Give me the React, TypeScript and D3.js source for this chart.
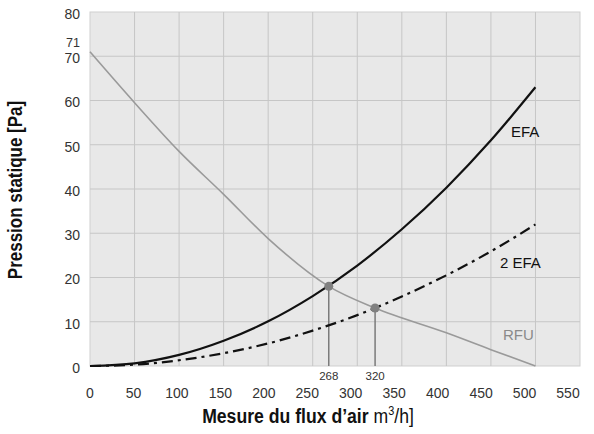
import React from "react";
import * as d3 from "d3";

const flowTicks = [0, 50, 100, 150, 200, 250, 300, 350, 400, 450, 500, 550];
const pressureTicks = [0, 10, 20, 30, 40, 50, 60, 70, 80];

const efaFlow = [0, 50, 100, 150, 200, 250, 300, 350, 400, 450, 500];
const efaPressure = [0, 0.6, 2.5, 5.7, 10.1, 15.8, 22.7, 30.9, 40.3, 51, 63];

const efa2Flow = [0, 50, 100, 150, 200, 250, 300, 350, 400, 450, 500];
const efa2Pressure = [0, 0.3, 1.3, 2.9, 5.1, 8, 11.5, 15.7, 20.5, 25.9, 32];

const rfuFlow = [0, 50, 100, 150, 200, 268, 320, 400, 450, 500];
const rfuPressure = [71, 59.5, 48.5, 38.8, 28.8, 18, 13.1, 7.5, 3.7, 0];

const operatingFlow = [268, 320];
const operatingPressure = [18, 13.1];

const W = 594;
const H = 434;
const L = 90, R = 580, T = 12, B = 366;

export default function App() {
  const x = d3.scaleLinear().domain([0, 550]).range([L, R]);
  const y = d3.scaleLinear().domain([0, 80]).range([B, T]);
  const line = d3
    .line<[number, number]>()
    .x((d) => x(d[0]))
    .y((d) => y(d[1]))
    .curve(d3.curveMonotoneX);
  const zip = (a: number[], b: number[]) => a.map((v, i) => [v, b[i]] as [number, number]);
  const sans = "'Liberation Sans', Arial, sans-serif";

  return (
    <svg
      width={W}
      height={H}
      style={{ position: "absolute", left: 0, top: 0, background: "#fff" }}
    >
      <rect x={L} y={T} width={R - L} height={B - T} fill="#e8e8e8" stroke="#cfcfcf" strokeWidth={1} />
      {flowTicks.slice(1, -1).map((t) => (
        <line key={"vx" + t} x1={x(t)} x2={x(t)} y1={T} y2={B} stroke="#c6c6c6" strokeWidth={1} />
      ))}
      {pressureTicks.slice(1, -1).map((t) => (
        <line key={"hy" + t} x1={L} x2={R} y1={y(t)} y2={y(t)} stroke="#c6c6c6" strokeWidth={1} />
      ))}

      {operatingFlow.map((f, i) => (
        <line
          key={"op" + f}
          x1={x(f)}
          x2={x(f)}
          y1={y(operatingPressure[i])}
          y2={B}
          stroke="#7a7a7a"
          strokeWidth={1.5}
        />
      ))}

      <path d={line(zip(rfuFlow, rfuPressure)) || ""} fill="none" stroke="#9a9a9a" strokeWidth={1.6} />
      <path d={line(zip(efaFlow, efaPressure)) || ""} fill="none" stroke="#111" strokeWidth={2.2} />
      <path
        d={line(zip(efa2Flow, efa2Pressure)) || ""}
        fill="none"
        stroke="#111"
        strokeWidth={2.2}
        strokeDasharray="11 5 3 5"
      />

      {operatingFlow.map((f, i) => (
        <circle key={"pt" + f} cx={x(f)} cy={y(operatingPressure[i])} r={4.5} fill="#808080" />
      ))}

      {pressureTicks.map((t) => (
        <text
          key={"yl" + t}
          x={80}
          y={y(t) + 2}
          dy="0.35em"
          textAnchor="end"
          fontFamily={sans}
          fontSize={14}
          fill="#333"
        >
          {t}
        </text>
      ))}
      <text x={80} y={47} textAnchor="end" fontFamily={sans} fontSize={12.5} fill="#333">
        71
      </text>

      {flowTicks.map((t) => (
        <text
          key={"xl" + t}
          x={x(t) - (t / 550) * 12}
          y={393}
          dy="0.35em"
          textAnchor="middle"
          fontFamily={sans}
          fontSize={14}
          fill="#333"
        >
          {t}
        </text>
      ))}
      {operatingFlow.map((f) => (
        <text
          key={"opl" + f}
          x={x(f)}
          y={376}
          dy="0.35em"
          textAnchor="middle"
          fontFamily={sans}
          fontSize={11.5}
          fill="#333"
        >
          {f}
        </text>
      ))}

      <text x={511} y={137} fontFamily={sans} fontSize={15} fill="#111">EFA</text>
      <text x={500} y={268} fontFamily={sans} fontSize={15} fill="#111">2 EFA</text>
      <text x={503} y={340} fontFamily={sans} fontSize={15} fill="#8a8a8a">RFU</text>

      <g transform="translate(22, 190) rotate(-90) scale(0.85, 1)">
        <text textAnchor="middle" fontFamily={sans} fontSize={20} fontWeight="bold" fill="#111">
          Pression statique [Pa]
        </text>
      </g>
      <g transform="translate(308, 423) scale(0.84, 1)">
        <text textAnchor="middle" fontFamily={sans} fontSize={21} fill="#111">
          <tspan fontWeight="bold">Mesure du flux d’air</tspan>{" "}
          <tspan>
            m<tspan dy={-8} fontSize={13}>3</tspan>
            <tspan dy={8}>/h]</tspan>
          </tspan>
        </text>
      </g>
    </svg>
  );
}
